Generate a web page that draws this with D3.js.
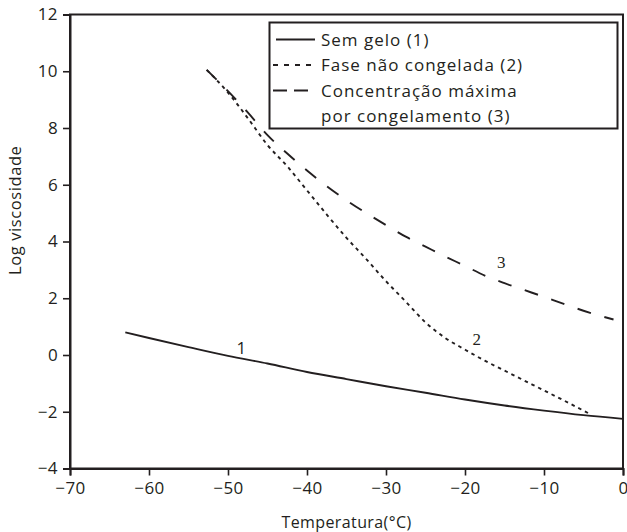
<!DOCTYPE html>
<html>
<head>
<meta charset="utf-8">
<script src="https://cdn.jsdelivr.net/npm/d3@7"></script>
<style>
  html, body { margin: 0; padding: 0; background: #fff; }
  svg { display: block; }
  text { font-family: "Open Sans", "Noto Sans", sans-serif; fill: #231f20; }
</style>
</head>
<body>
<svg id="chart" width="627" height="532"></svg>
<script>
// Temperature (°C) and log viscosity for each curve
const tempSemGelo = [-63, -60, -55, -50, -45, -40, -35, -30, -25, -20, -15, -10, -5, 0];
const logSemGelo  = [0.8, 0.6, 0.28, -0.03, -0.3, -0.6, -0.85, -1.1, -1.33, -1.57, -1.78, -1.96, -2.12, -2.25];

const tempFaseNaoCongelada = [-52.7, -50, -47.5, -45, -42.5, -40, -37.5, -35, -32.5, -30, -27.5, -25, -22.5, -20, -17.5, -15, -12.5, -10, -7.5, -4.4];
const logFaseNaoCongelada  = [10.05, 9.25, 8.35, 7.4, 6.65, 5.8, 4.95, 4.13, 3.38, 2.6, 1.88, 1.15, 0.6, 0.19, -0.2, -0.55, -0.9, -1.25, -1.6, -2.05];

const tempConcMaxima = [-52.7, -50, -47.5, -45, -42.5, -40, -37.5, -35, -32.5, -30, -27.5, -25, -22.5, -20, -17.5, -15, -12.5, -10, -7.5, -5, -2.5, -1.2];
const logConcMaxima  = [10.05, 9.3, 8.55, 7.75, 7.1, 6.5, 5.95, 5.45, 5.0, 4.58, 4.17, 3.82, 3.47, 3.14, 2.8, 2.53, 2.29, 2.05, 1.8, 1.56, 1.35, 1.25];

const xTicks = [-70, -60, -50, -40, -30, -20, -10, 0];
const yTicks = [-4, -2, 0, 2, 4, 6, 8, 10, 12];

const legendLabels = [["Sem gelo (1)"], ["Fase não congelada (2)"], ["Concentração máxima", "por congelamento (3)"]];
const curveLabels = [
  { text: "1", t: -48.3, v: 0.05, serif: false },
  { text: "2", t: -18.5, v: 0.35, serif: true },
  { text: "3", t: -15.4, v: 3.08, serif: true }
];

const ink = "#231f20";
const minus = s => String(s).replace("-", "\u2212");

const svg = d3.select("#chart");
const margin = { left: 70, right: 4, top: 14.5, bottom: 63.5 };
const W = 627, H = 532;

const x = d3.scaleLinear().domain([-70, 0]).range([margin.left, W - margin.right]);
const y = d3.scaleLinear().domain([-4, 12]).range([H - margin.bottom, margin.top]);

// Frame around the plot area
svg.append("rect")
  .attr("x", x(-70)).attr("y", y(12))
  .attr("width", x(0) - x(-70)).attr("height", y(-4) - y(12))
  .attr("fill", "none").attr("stroke", ink).attr("stroke-width", 2);

// Axes
const xAxis = svg.append("g")
  .attr("transform", `translate(0,${y(-4)})`)
  .call(d3.axisBottom(x).tickValues(xTicks).tickSize(7).tickPadding(6).tickFormat(minus));
const yAxis = svg.append("g")
  .attr("transform", `translate(${x(-70)},0)`)
  .call(d3.axisLeft(y).tickValues(yTicks).tickSize(7).tickPadding(5).tickFormat(minus));

[xAxis, yAxis].forEach(g => {
  g.select(".domain").attr("stroke", ink).attr("stroke-width", 2);
  g.selectAll(".tick line").attr("stroke", ink).attr("stroke-width", 1.6);
  g.selectAll(".tick text").attr("fill", ink).style("font-size", "17px")
    .style("letter-spacing", "0.4px")
    .style("font-family", '"Open Sans", sans-serif');
});

// Axis titles
svg.append("text")
  .attr("x", (x(-70) + x(0)) / 2).attr("y", 528)
  .attr("text-anchor", "middle").style("font-size", "16px")
  .style("letter-spacing", "0.4px")
  .text("Temperatura(°C)");
svg.append("text")
  .attr("transform", `translate(21,${y(5.1)}) rotate(-90)`)
  .attr("text-anchor", "middle").style("font-size", "16.5px")
  .style("letter-spacing", "0.6px")
  .text("Log viscosidade");

// Curves
const line = d3.line().x(d => x(d[0])).y(d => y(d[1])).curve(d3.curveMonotoneX);
const series = [
  { t: tempSemGelo, v: logSemGelo, dash: null },
  { t: tempFaseNaoCongelada, v: logFaseNaoCongelada, dash: "3.5,4" },
  { t: tempConcMaxima, v: logConcMaxima, dash: "14,14" }
];
series.forEach(s => {
  svg.append("path")
    .datum(d3.zip(s.t, s.v))
    .attr("d", line)
    .attr("fill", "none")
    .attr("stroke", ink)
    .attr("stroke-width", 1.9)
    .attr("stroke-dasharray", s.dash);
});

// Curve number labels
curveLabels.forEach(c => {
  svg.append("text")
    .attr("x", x(c.t)).attr("y", y(c.v))
    .attr("text-anchor", "middle")
    .style("font-size", "17px")
    .style("font-family", c.serif ? '"Liberation Serif", serif' : '"Open Sans", sans-serif')
    .text(c.text);
});

// Legend
const lg = svg.append("g");
lg.append("rect")
  .attr("x", 269.5).attr("y", 22.5).attr("width", 348).attr("height", 106)
  .attr("fill", "#fff").attr("stroke", ink).attr("stroke-width", 2);

const samples = [
  { x1: 276, x2: 315, dash: null },
  { x1: 273, x2: 313, dash: "5,6" },
  { x1: 273, x2: 308, dash: "14,7" }
];
const rowY = [39.5, 65, 90.5];
legendLabels.forEach((lines, i) => {
  lg.append("line")
    .attr("x1", samples[i].x1).attr("x2", samples[i].x2)
    .attr("y1", rowY[i]).attr("y2", rowY[i])
    .attr("stroke", ink).attr("stroke-width", 1.9)
    .attr("stroke-dasharray", samples[i].dash);
  lines.forEach((t, j) => {
    lg.append("text")
      .attr("x", 321).attr("y", rowY[i] + 6 + j * 25.5)
      .style("font-size", "17px")
      .style("letter-spacing", "1px")
      .text(t);
  });
});
</script>
</body>
</html>
